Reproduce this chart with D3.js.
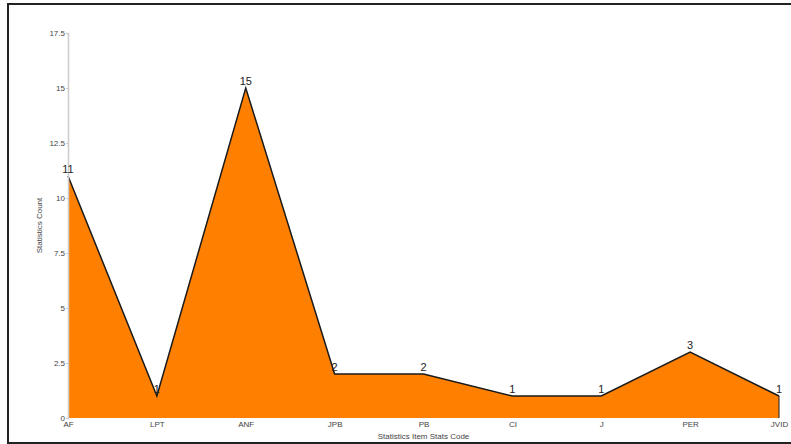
<!DOCTYPE html>
<html>
<head>
<meta charset="utf-8">
<script src="https://cdn.jsdelivr.net/npm/d3@7"></script>
<style>
  html, body { margin: 0; padding: 0; background: #fff; }
  svg { display: block; }
</style>
</head>
<body>
<script>
// Statistics counts per item stats code
const categories = ["AF", "LPT", "ANF", "JPB", "PB", "CI", "J", "PER", "JVID"];
const counts = [11, 1, 15, 2, 2, 1, 1, 3, 1];
const yTicks = [0, 2.5, 5, 7.5, 10, 12.5, 15, 17.5];

const W = 791, H = 444;
const margin = { left: 68, right: 12, top: 33, bottom: 26 };

const svg = d3.select("body").append("svg")
  .attr("width", W).attr("height", H);

// outer frame
svg.append("rect")
  .attr("x", 8).attr("y", 4)
  .attr("width", W + 10).attr("height", 439)
  .attr("fill", "none").attr("stroke", "#222").attr("stroke-width", 2);

const x = d3.scalePoint()
  .domain(categories)
  .range([margin.left, W - margin.right]);

const y = d3.scaleLinear()
  .domain([0, 17.5])
  .range([H - margin.bottom, margin.top]);

const data = categories.map((c, i) => ({ c, v: counts[i] }));

// filled area
const area = d3.area()
  .x(d => x(d.c))
  .y0(y(0))
  .y1(d => y(d.v));

svg.append("path")
  .datum(data)
  .attr("d", area)
  .attr("fill", "#ff8000");

// outline along the values
const line = d3.line()
  .x(d => x(d.c))
  .y(d => y(d.v));

svg.append("path")
  .datum(data)
  .attr("d", line)
  .attr("fill", "none")
  .attr("stroke", "#1a1a1a")
  .attr("stroke-width", 1.5)
  .attr("stroke-linejoin", "miter");

// right edge of the area
svg.append("line")
  .attr("x1", x(categories[categories.length - 1]))
  .attr("x2", x(categories[categories.length - 1]))
  .attr("y1", y(counts[counts.length - 1]))
  .attr("y2", y(0))
  .attr("stroke", "#1a1a1a").attr("stroke-width", 1);

// y axis
const yAxis = d3.axisLeft(y)
  .tickValues(yTicks)
  .tickFormat(d => String(d))
  .tickSize(2)
  .tickPadding(1);

const gy = svg.append("g")
  .attr("transform", `translate(${margin.left},0)`)
  .call(yAxis);
gy.select(".domain").attr("stroke", "#ccc").attr("stroke-width", 1.5);
gy.selectAll(".tick line").attr("stroke", "#ccc");
gy.selectAll(".tick text")
  .attr("font-family", "Arial, 'Liberation Sans', sans-serif")
  .attr("font-size", 8).attr("fill", "#444");

// x axis
const xAxis = d3.axisBottom(x).tickSize(0).tickPadding(3);
const gx = svg.append("g")
  .attr("transform", `translate(0,${y(0)})`)
  .call(xAxis);
gx.select(".domain").attr("stroke", "none");
gx.selectAll(".tick text")
  .attr("font-family", "Arial, 'Liberation Sans', sans-serif")
  .attr("font-size", 8).attr("fill", "#444");

// value labels
svg.append("g")
  .selectAll("text")
  .data(data)
  .join("text")
  .attr("x", d => x(d.c))
  .attr("y", d => y(d.v) - 3)
  .attr("text-anchor", "middle")
  .attr("font-family", "Arial, 'Liberation Sans', sans-serif")
  .attr("font-size", 11)
  .attr("fill", "#222")
  .text(d => d.v);

// axis titles
svg.append("text")
  .attr("transform", `translate(42,${(margin.top + H - margin.bottom) / 2}) rotate(-90)`)
  .attr("text-anchor", "middle")
  .attr("font-family", "Arial, 'Liberation Sans', sans-serif")
  .attr("font-size", 8).attr("fill", "#444")
  .text("Statistics Count");

svg.append("text")
  .attr("x", (margin.left + W - margin.right) / 2)
  .attr("y", 439)
  .attr("text-anchor", "middle")
  .attr("font-family", "Arial, 'Liberation Sans', sans-serif")
  .attr("font-size", 8).attr("fill", "#444")
  .text("Statistics Item Stats Code");
</script>
</body>
</html>
